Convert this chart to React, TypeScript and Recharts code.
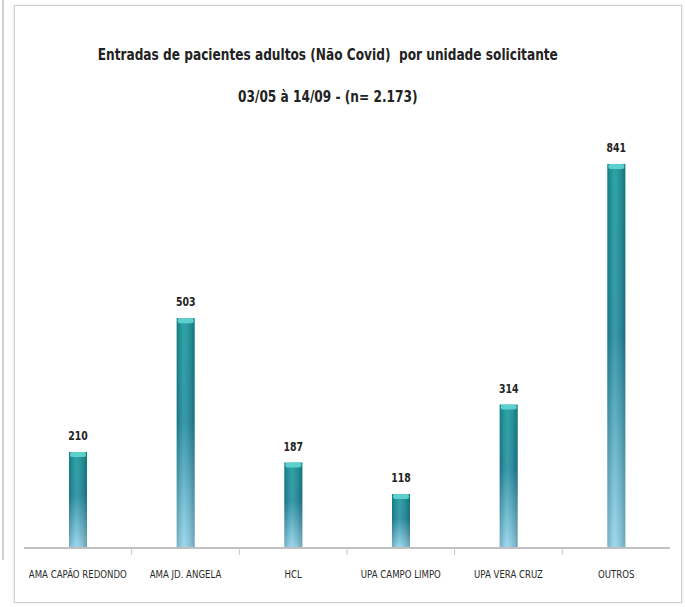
import { Bar, BarChart, LabelList, XAxis, YAxis } from 'recharts';

const categories = [
  'AMA CAPÃO REDONDO',
  'AMA JD. ANGELA',
  'HCL',
  'UPA CAMPO LIMPO',
  'UPA VERA CRUZ',
  'OUTROS',
];
const entradas = [210, 503, 187, 118, 314, 841];

const titleLines = [
  'Entradas de pacientes adultos (Não Covid)  por unidade solicitante',
  '03/05 à 14/09 - (n= 2.173)',
];

const chartData = categories.map((name, i) => ({ name, value: entradas[i] }));

const W = 685;
const H = 607;
const MARGIN = { top: 137, right: 15, bottom: 29, left: 24 };
const STEP = (W - MARGIN.left - MARGIN.right) / categories.length;
const FONT = '"DejaVu Sans", sans-serif';

// cylinder-ish bar: vertical teal -> light blue, darker edges, light cap on top
const TubeBar = (props: any) => {
  const { x, y, width, height } = props;
  if (!height || height <= 0) return null;
  return (
    <g>
      <rect x={x} y={y} width={width} height={height} fill="url(#tubeV)" />
      <rect x={x} y={y} width={width} height={height} fill="url(#tubeH)" />
      <rect x={x + 1} y={y} width={width - 2} height={5} rx={2} fill="#62d6d2" opacity={0.9} />
    </g>
  );
};

const CategoryTick = (props: any) => {
  const { x, y, payload, index } = props;
  return (
    <g>
      {index > 0 && (
        <line x1={x - STEP / 2} x2={x - STEP / 2} y1={y - 8} y2={y - 1} stroke="#c8c8c8" />
      )}
      <text
        x={x}
        y={y + 22}
        textAnchor="middle"
        fontFamily={FONT}
        fontSize={11}
        fill="#2a2a2a"
        transform={`translate(${x} 0) scale(0.78 1) translate(${-x} 0)`}
      >
        {payload.value}
      </text>
    </g>
  );
};

const ValueLabel = (props: any) => {
  const { x, y, width, value } = props;
  const cx = x + width / 2;
  return (
    <text
      x={cx}
      y={y - 12}
      textAnchor="middle"
      fontFamily={FONT}
      fontWeight={700}
      fontSize={12}
      fill="#222"
      transform={`translate(${cx} 0) scale(0.78 1) translate(${-cx} 0)`}
    >
      {value}
    </text>
  );
};

export default function App() {
  return (
    <div
      style={{
        position: 'absolute',
        left: 0,
        top: 0,
        width: W,
        height: H,
        background: '#fff',
        overflow: 'hidden',
      }}
    >
      <div
        style={{
          position: 'absolute',
          left: 2,
          top: 0,
          width: 2,
          height: 560,
          background: '#d0d0d0',
        }}
      />
      <div
        style={{
          position: 'absolute',
          left: 14,
          top: 5,
          width: 666,
          height: 596,
          border: '1px solid #cfcfcf',
          boxShadow: '0 0 2px rgba(0,0,0,0.15)',
        }}
      />
      {titleLines.map((t, i) => (
        <div
          key={t}
          style={{
            position: 'absolute',
            left: 14,
            width: 628,
            top: 43 + i * 42,
            textAlign: 'center',
            fontFamily: FONT,
            fontWeight: 700,
            fontSize: 16,
            color: '#222',
            whiteSpace: 'pre',
            lineHeight: '24px',
            transform: 'scaleX(0.76)',
            transformOrigin: '313px 0',
          }}
        >
          {t}
        </div>
      ))}
      <BarChart
        width={W}
        height={H}
        data={chartData}
        margin={MARGIN}
        style={{ position: 'absolute', left: 0, top: 0 }}
      >
        <defs>
          <linearGradient id="tubeV" x1="0" y1="0" x2="0" y2="1">
            <stop offset="0%" stopColor="#12979a" />
            <stop offset="45%" stopColor="#1e8ba0" />
            <stop offset="100%" stopColor="#92d4ec" />
          </linearGradient>
          <linearGradient id="tubeH" x1="0" y1="0" x2="1" y2="0">
            <stop offset="0%" stopColor="#000" stopOpacity={0.18} />
            <stop offset="40%" stopColor="#fff" stopOpacity={0.12} />
            <stop offset="100%" stopColor="#000" stopOpacity={0.22} />
          </linearGradient>
        </defs>
        <XAxis
          dataKey="name"
          axisLine={{ stroke: '#c0c0c0', strokeWidth: 2 }}
          tickLine={false}
          tick={<CategoryTick />}
          interval={0}
        />
        <YAxis hide domain={[0, 900]} />
        <Bar dataKey="value" barSize={18} shape={<TubeBar />} isAnimationActive={false}>
          <LabelList dataKey="value" content={<ValueLabel />} />
        </Bar>
      </BarChart>
    </div>
  );
}
